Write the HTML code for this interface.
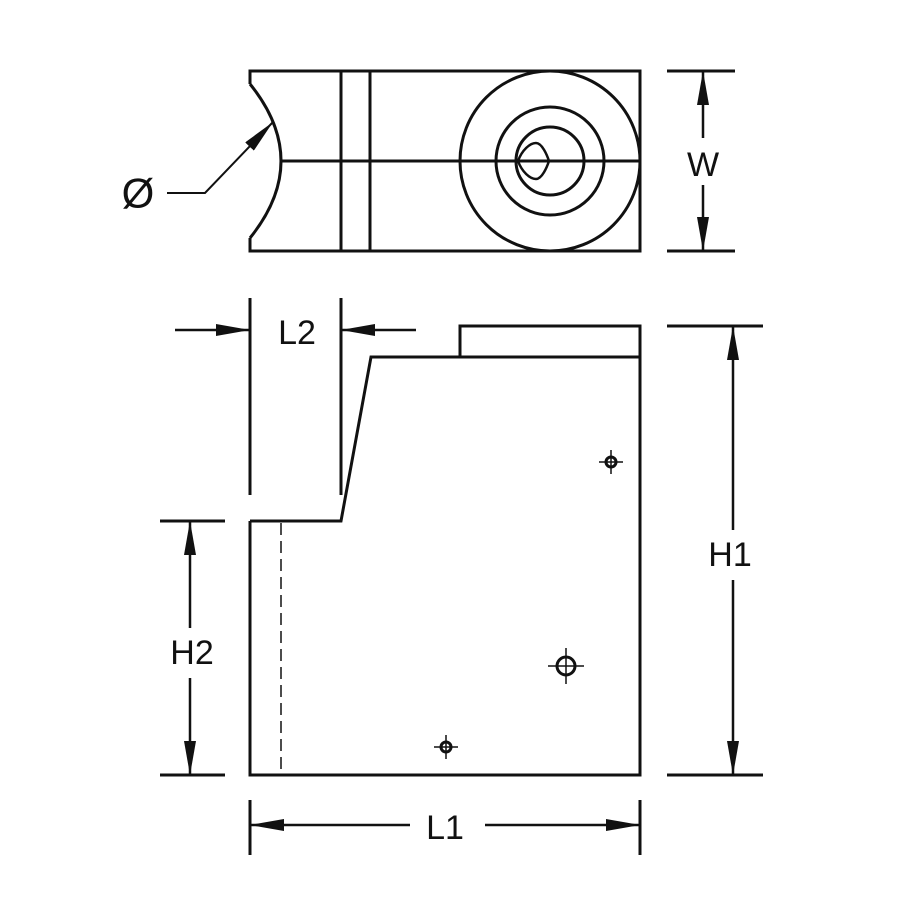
<!DOCTYPE html>
<html><head><style>body{margin:0;background:#fff}svg{display:block}text{font-family:"Liberation Sans",sans-serif;font-size:34px;fill:#111;text-anchor:middle;dominant-baseline:central}</style></head>
<body>
<svg width="900" height="900" viewBox="0 0 900 900" xmlns="http://www.w3.org/2000/svg">
<defs>
<marker id="a" viewBox="0 0 34 12" refX="34" refY="6" markerWidth="34" markerHeight="12" markerUnits="userSpaceOnUse" orient="auto"><path d="M0,0 L34,6 L0,12 Z" fill="#111"/></marker>
</defs>
<g fill="none" stroke="#111" stroke-width="3">
<path d="M250,238 L250,251 L640,251 L640,71 L250,71 L250,84"/>
<path d="M250,84 Q312,161 250,238"/>
<line x1="341" y1="71" x2="341" y2="251"/>
<line x1="370" y1="71" x2="370" y2="251"/>
<line x1="281" y1="161" x2="640" y2="161"/>
<circle cx="550" cy="161" r="90"/>
<circle cx="550" cy="161" r="54"/>
<circle cx="550" cy="161" r="34"/>
<path d="M518,161 C522,150 530,143 536,143 C542,143 547,155 549,161 C547,167 542,179 536,179 C530,179 522,172 518,161 Z" stroke-width="2.5"/>
<polyline points="167,193 205,193 273,122" stroke-width="2" marker-end="url(#a)"/>
<path d="M250,521 L250,775 L640,775 L640,326 L460,326 L460,357"/>
<path d="M640,357 L371,357 L341,521 L250,521"/>
<line x1="281" y1="523" x2="281" y2="775" stroke-width="1.5" stroke-dasharray="12,6"/>
<line x1="250" y1="298" x2="250" y2="495"/>
<line x1="341" y1="298" x2="341" y2="495"/>
<line x1="667" y1="71" x2="735" y2="71"/>
<line x1="667" y1="251" x2="735" y2="251"/>
<line x1="667" y1="326" x2="763" y2="326"/>
<line x1="667" y1="775" x2="763" y2="775"/>
<line x1="160" y1="521" x2="225" y2="521"/>
<line x1="160" y1="775" x2="225" y2="775"/>
<line x1="250" y1="800" x2="250" y2="855"/>
<line x1="640" y1="800" x2="640" y2="855"/>
</g>
<g fill="none" stroke="#111" stroke-width="2.5">
<line x1="175" y1="330" x2="250" y2="330" marker-end="url(#a)"/>
<line x1="416" y1="330" x2="341" y2="330" marker-end="url(#a)"/>
<line x1="703" y1="138" x2="703" y2="71" marker-end="url(#a)"/>
<line x1="703" y1="185" x2="703" y2="251" marker-end="url(#a)"/>
<line x1="733" y1="530" x2="733" y2="326" marker-end="url(#a)"/>
<line x1="733" y1="580" x2="733" y2="775" marker-end="url(#a)"/>
<line x1="190" y1="628" x2="190" y2="521" marker-end="url(#a)"/>
<line x1="190" y1="678" x2="190" y2="775" marker-end="url(#a)"/>
<line x1="410" y1="825" x2="250" y2="825" marker-end="url(#a)"/>
<line x1="485" y1="825" x2="640" y2="825" marker-end="url(#a)"/>
</g>
<g fill="none" stroke="#111">
<circle cx="611" cy="462" r="5" stroke-width="3"/>
<path d="M599,462 H623 M611,450 V474" stroke-width="1.5"/>
<circle cx="566" cy="666" r="9" stroke-width="3"/>
<path d="M548,666 H584 M566,648 V684" stroke-width="1.5"/>
<circle cx="446" cy="747" r="5" stroke-width="3"/>
<path d="M434,747 H458 M446,735 V759" stroke-width="1.5"/>
</g>
<text x="138" y="193" style="font-size:42px">Ø</text>
<text x="297" y="333">L2</text>
<text x="703" y="165">W</text>
<text x="730" y="555">H1</text>
<text x="192" y="653">H2</text>
<text x="445" y="828">L1</text>
</svg>
</body></html>
